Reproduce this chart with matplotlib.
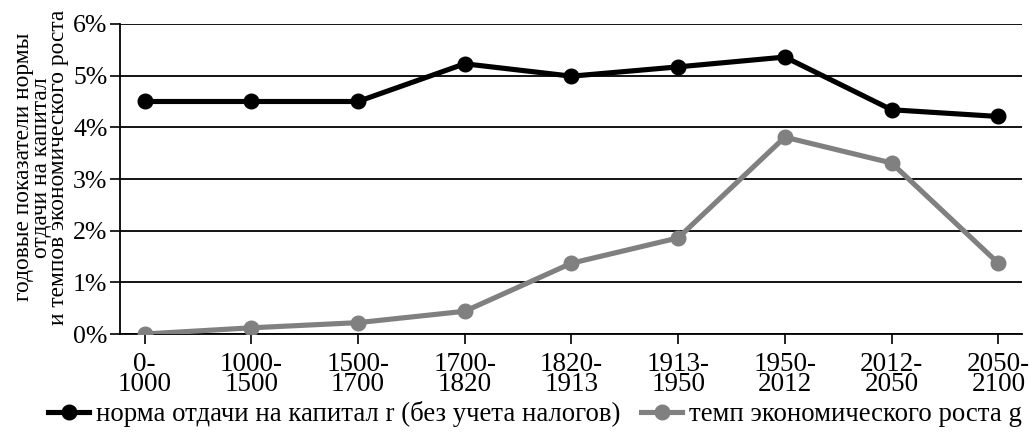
import matplotlib.pyplot as plt
from matplotlib.ticker import FuncFormatter

periods = ["0-\n1000", "1000-\n1500", "1500-\n1700", "1700-\n1820", "1820-\n1913",
           "1913-\n1950", "1950-\n2012", "2012-\n2050", "2050-\n2100"]
r_values = [4.5, 4.5, 4.5, 5.23, 4.99, 5.17, 5.36, 4.34, 4.21]
g_values = [0.0, 0.12, 0.22, 0.44, 1.37, 1.86, 3.81, 3.31, 1.37]

plt.rcParams["font.family"] = ["Liberation Serif", "DejaVu Serif"]

fig = plt.figure(figsize=(10.29, 4.33), dpi=100)
ax = fig.add_axes([0.1166, 0.2286, 0.8764, 0.716])

x = list(range(len(periods)))
ax.plot(x, r_values, color="black", lw=3.7, marker="o", ms=10.5,
        label="норма отдачи на капитал r (без учета налогов)", zorder=4)
ax.plot(x, g_values, color="#808080", lw=3.7, marker="o", ms=10.5,
        label="темп экономического роста g", zorder=3)

ax.set_ylim(0, 6)
ax.set_xlim(-0.23, 8.22)
ax.set_yticks(range(0, 7))
ax.yaxis.set_major_formatter(FuncFormatter(lambda v, p: f"{int(v)}%"))
ax.set_xticks(x)
ax.set_xticklabels(periods, linespacing=0.75)
ax.tick_params(axis="both", direction="out", length=7, width=1.2, colors="black")
ax.tick_params(axis="y", labelsize=18.5, pad=2)
ax.tick_params(axis="x", labelsize=19.5, pad=6)
ax.grid(axis="y", color="black", lw=1.3)
ax.set_axisbelow(True)
for s in ["top", "right"]:
    ax.spines[s].set_visible(False)
ax.spines["left"].set_linewidth(1.3)
ax.spines["bottom"].set_linewidth(1.3)

fig.text(0.04, 0.614, "годовые показатели нормы\nотдачи на капитал\nи темпов экономического роста",
         rotation=90, ha="center", va="center", fontsize=16.8, linespacing=0.8)

fig.legend(loc="center", bbox_to_anchor=(0.52, 0.043), ncol=2, frameon=False,
           fontsize=19.3, handlelength=1.55, handletextpad=0.26, columnspacing=0.75,
           borderpad=0, borderaxespad=0)

fig.savefig("out.png", dpi=100)
